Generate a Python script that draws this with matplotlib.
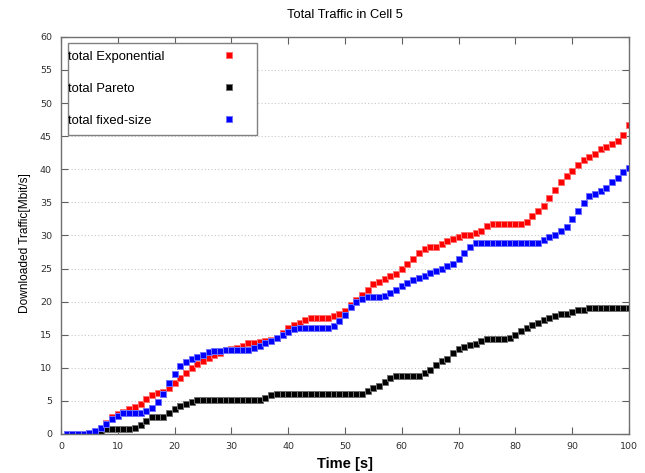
import matplotlib.pyplot as plt
import numpy as np

# Downloaded traffic per second, one sample each second
time_s = np.arange(1, 101)

exponential = [
    0, 0, 0, 0, 0.1, 0.4, 0.8, 1.6,
    2.5, 3.0, 3.3, 3.7, 4.1, 4.6, 5.3, 5.9, 6.2, 6.4, 6.9, 7.7,
    8.4, 9.2, 10.0, 10.6, 11.1, 11.5, 11.9, 12.3, 12.7, 12.9,
    13.0, 13.3, 13.7, 13.7, 13.9, 14.0, 14.2, 14.5, 15.2, 16.0,
    16.5, 16.8, 17.2, 17.5, 17.5, 17.5, 17.5, 17.8, 18.2, 18.6,
    19.5, 20.2, 21.0, 21.8, 22.7, 23.0, 23.4, 23.8, 24.1, 24.9,
    25.7, 26.4, 27.3, 27.9, 28.2, 28.3, 28.7, 29.1, 29.4, 29.8,
    30.0, 30.0, 30.3, 30.7, 31.5, 31.7, 31.7, 31.7, 31.7, 31.7,
    31.7, 32.1, 32.9, 33.7, 34.5, 35.6, 36.9, 38.1, 39.0, 39.8,
    40.6, 41.4, 41.9, 42.3, 43.0, 43.4, 43.8, 44.3, 45.2, 46.7,
]
pareto = [
    0, 0, 0, 0, 0.05, 0.15, 0.3, 0.75, 0.75, 0.75,
    0.75, 0.75, 0.9, 1.3, 1.9, 2.5, 2.6, 2.6, 3.1, 3.8,
    4.2, 4.5, 4.9, 5.1, 5.2, 5.2, 5.2, 5.2, 5.2, 5.2,
    5.2, 5.2, 5.2, 5.2, 5.2, 5.5, 5.9, 6.0, 6.0, 6.0,
    6.0, 6.0, 6.0, 6.0, 6.0, 6.0, 6.0, 6.1, 6.1, 6.1,
    6.1, 6.1, 6.1, 6.5, 6.9, 7.2, 7.8, 8.4, 8.7, 8.7,
    8.7, 8.7, 8.7, 9.2, 9.7, 10.4, 11.1, 11.4, 12.2, 12.8,
    13.2, 13.5, 13.6, 14.1, 14.3, 14.3, 14.3, 14.3, 14.5, 15.0,
    15.5, 16.0, 16.4, 16.7, 17.2, 17.5, 17.9, 18.1, 18.2, 18.4,
    18.8, 18.8, 19.0, 19.0, 19.0, 19.0, 19.0, 19.0, 19.0, 19.0,
]
fixed_size = [
    0, 0, 0, 0, 0.1, 0.5, 0.9, 1.5, 2.2, 2.7,
    3.1, 3.1, 3.1, 3.1, 3.5, 3.9, 4.8, 6.1, 7.7, 9.1,
    10.3, 10.9, 11.3, 11.6, 11.9, 12.4, 12.6, 12.6, 12.7, 12.7,
    12.7, 12.7, 12.7, 12.95, 13.3, 13.7, 14.1, 14.5, 15.0, 15.4,
    15.8, 16.0, 16.0, 16.0, 16.0, 16.0, 16.0, 16.3, 17.1, 18.0,
    19.2, 20.0, 20.4, 20.7, 20.7, 20.7, 20.9, 21.3, 21.8, 22.3,
    22.8, 23.2, 23.5, 23.9, 24.3, 24.7, 25.0, 25.4, 25.7, 26.4,
    27.3, 28.2, 28.8, 28.8, 28.8, 28.8, 28.8, 28.8, 28.8, 28.8,
    28.8, 28.8, 28.8, 28.9, 29.3, 29.7, 30.1, 30.6, 31.3, 32.5,
    33.7, 34.9, 35.9, 36.2, 36.7, 37.1, 38.0, 38.7, 39.6, 40.2,
]

series = [
    ("total Exponential", exponential, '#ff0000', '#ff7070'),
    ("total Pareto", pareto, '#000000', '#707070'),
    ("total fixed-size", fixed_size, '#0000ff', '#7070ff'),
]

fig = plt.figure(figsize=(6.45, 4.73), dpi=100)
ax = fig.add_axes([0.0946, 0.0825, 0.8806, 0.8395])

for label, vals, face, edge in series:
    ax.plot(time_s, vals, linestyle='none', marker='s', markersize=4.4,
            markerfacecolor=face, markeredgecolor=edge, markeredgewidth=0.7,
            label=label)

ax.set_xlim(0, 100)
ax.set_ylim(0, 60)
ax.set_xticks(np.arange(0, 101, 10))
ax.set_yticks(np.arange(0, 61, 5))
ax.tick_params(direction='in', length=5, width=0.8, color='#606060',
               labelsize=6.8, labelcolor='#303030', top=True, right=True)
ax.tick_params(axis='x', pad=6)
ax.tick_params(axis='y', pad=6.5)
ax.grid(axis='y', linestyle=(0, (1, 2)), color='#c8c8c8', linewidth=0.8)
for sp in ax.spines.values():
    sp.set_color('#707070')
    sp.set_linewidth(1.0)

ax.set_title("Total Traffic in Cell 5", fontsize=9.3, family='Liberation Sans', pad=13.5)
ax.set_xlabel("Time [s]", fontsize=10.5, family='Liberation Sans', fontweight='bold', labelpad=4)
ax.set_ylabel("Downloaded Traffic[Mbit/s]", fontsize=8.6, family='Liberation Sans')
ax.yaxis.set_label_coords(-0.053, 0.482)

leg = ax.legend(loc='upper left', bbox_to_anchor=(0.0123, 0.985), markerfirst=False,
                prop={'family': 'Liberation Sans', 'size': 9.4}, labelspacing=1.52,
                handlelength=2.95, handletextpad=2.9, borderpad=0.6, borderaxespad=0,
                fancybox=False, framealpha=1, edgecolor='#808080')
leg.get_frame().set_linewidth(1.0)

# keep label text flush left (against the frame) and symbols in one column
fig.canvas.draw()
renderer = fig.canvas.get_renderer()
widths = [t.get_window_extent(renderer).width for t in leg.get_texts()]
column = leg._legend_handle_box.get_children()[0]
for row, w in zip(column.get_children(), widths):
    row.sep = row.sep + (max(widths) - w) * 72.0 / fig.dpi
for t in leg.get_texts():
    t.set_x(-7.5)

fig.savefig('out.png', dpi=100)
